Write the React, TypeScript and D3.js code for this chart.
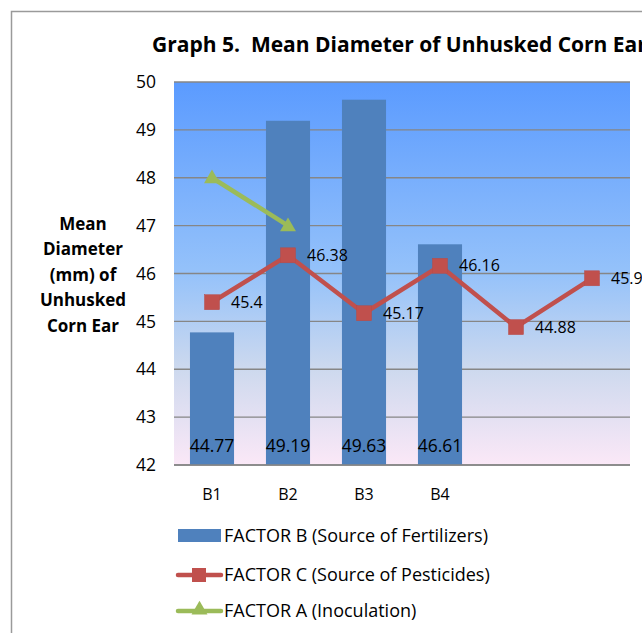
import React from "react";
import * as d3 from "d3";

const categories = ["B1", "B2", "B3", "B4", "", ""];
const factorB = [44.77, 49.19, 49.63, 46.61];
const factorC = [45.4, 46.38, 45.17, 46.16, 44.88, 45.9];
const factorA = [48, 47];
const yTicks = [42, 43, 44, 45, 46, 47, 48, 49, 50];
const yTitleLines = ["Mean", "Diameter", "(mm) of", "Unhusked", "Corn Ear"];
const legendItems = [
  "FACTOR B (Source of Fertilizers)",
  "FACTOR C (Source of Pesticides)",
  "FACTOR A (Inoculation)",
];

const FONT = "'Open Sans', sans-serif";

export default function App() {
  const W = 642, H = 633;
  const left = 174, right = 630, top = 82, bottom = 465;
  const x = d3.scaleBand<number>().domain(d3.range(categories.length)).range([left, right]).paddingInner(0.42).paddingOuter(0.21);
  const xc = (i: number) => (x(i) as number) + x.bandwidth() / 2;
  const y = d3.scaleLinear().domain([42, 50]).range([bottom, top]);
  const lineGen = d3.line<number>().x((_, i) => xc(i)).y((d) => y(d));
  const tri = d3.symbol().type(d3.symbolTriangle).size(110)();
  const legX = 178;
  const legY = [536, 575, 611];

  return (
    <svg width={W} height={H} style={{ position: "absolute", left: 0, top: 0, fontFamily: FONT }}>
      <defs>
        <linearGradient id="bg" x1="0" y1="0" x2="0" y2="1">
          <stop offset="0" stopColor="#5b9bff" />
          <stop offset="0.5" stopColor="#95c2fa" />
          <stop offset="0.75" stopColor="#cdd9ee" />
          <stop offset="1" stopColor="#fbe8f7" />
        </linearGradient>
      </defs>
      <rect x={0} y={0} width={W} height={H} fill="#fff" />
      <path d={`M11.5,${H} V11.5 H${W}`} fill="none" stroke="#9a9a9a" strokeWidth={1.5} />
      <text x={152} y={52} fontSize={21} fontWeight="bold" fill="#000" style={{ whiteSpace: "pre" }}>
        {"Graph 5.  Mean Diameter of Unhusked Corn Ear"}
      </text>
      <rect x={left} y={top} width={right - left} height={bottom - top} fill="url(#bg)" />
      {yTicks.map((t) => (
        <g key={t}>
          <line x1={left} x2={right} y1={y(t)} y2={y(t)} stroke="#868686" strokeWidth={1.3} />
          <text x={156} y={y(t)} dy="0.35em" textAnchor="end" fontSize={17.5} fill="#000">{t}</text>
        </g>
      ))}
      {factorB.map((v, i) => (
        <rect key={i} x={x(i)} y={y(v)} width={x.bandwidth()} height={bottom - y(v)} fill="#4f81bd" />
      ))}
      <line x1={left} x2={right} y1={bottom} y2={bottom} stroke="#868686" strokeWidth={1.3} />
      {factorB.map((v, i) => (
        <text key={i} x={xc(i)} y={446} dy="0.35em" textAnchor="middle" fontSize={17.5} fill="#000">{v.toFixed(2)}</text>
      ))}
      <path d={lineGen(factorC) as string} fill="none" stroke="#c0504d" strokeWidth={4.5} strokeLinejoin="round" />
      {factorC.map((v, i) => (
        <g key={i}>
          <rect x={xc(i) - 7.5} y={y(v) - 7.5} width={15} height={15} fill="#c0504d" stroke="#b84a47" strokeWidth={0.5} />
          <text x={xc(i) + 19} y={y(v)} dy="0.35em" fontSize={16} fill="#000">{String(v)}</text>
        </g>
      ))}
      <path d={lineGen(factorA) as string} fill="none" stroke="#9bbb59" strokeWidth={4.5} />
      {factorA.map((v, i) => (
        <path key={i} d={tri as string} transform={`translate(${xc(i)},${y(v) + 1})`} fill="#9bbb59" />
      ))}
      {yTitleLines.map((s, i) => (
        <text key={i} x={83} y={224 + i * 25.4} dy="0.35em" textAnchor="middle" fontSize={17} fontWeight="bold" fill="#000">{s}</text>
      ))}
      {categories.map((c, i) => c ? (
        <text key={i} x={xc(i)} y={494} dy="0.35em" textAnchor="middle" fontSize={16} fill="#000">{c}</text>
      ) : null)}
      <rect x={legX} y={legY[0] - 7} width={43} height={13} fill="#4f81bd" />
      <line x1={legX} x2={legX + 43} y1={legY[1]} y2={legY[1]} stroke="#c0504d" strokeWidth={4.5} strokeLinecap="round" />
      <rect x={legX + 14} y={legY[1] - 7} width={14} height={14} fill="#c0504d" />
      <line x1={legX} x2={legX + 43} y1={legY[2]} y2={legY[2]} stroke="#9bbb59" strokeWidth={4.5} strokeLinecap="round" />
      <path d={tri as string} transform={`translate(${legX + 21.5},${legY[2] - 1})`} fill="#9bbb59" />
      {legendItems.map((s, i) => (
        <text key={i} x={224} y={legY[i]} dy="0.35em" fontSize={18} fill="#000">{s}</text>
      ))}
    </svg>
  );
}
